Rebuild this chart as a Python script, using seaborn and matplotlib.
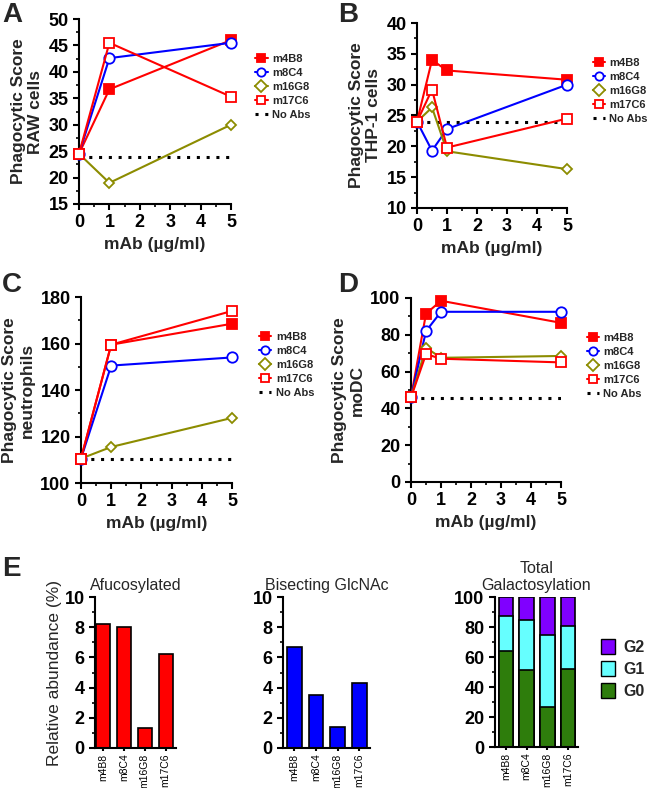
import numpy as np
import pandas as pd
import matplotlib
matplotlib.use("Agg")
import matplotlib.pyplot as plt
import seaborn as sns
from matplotlib.ticker import AutoMinorLocator, MultipleLocator
from matplotlib.patches import Patch

# ================= DATA =================
mabs = ["m4B8", "m8C4", "m16G8", "m17C6"]

# panel A - RAW cells
dose_a = [0, 1, 5]
raw_m4b8 = [24.5, 36.7, 46.0]
raw_m8c4 = [24.5, 42.6, 45.5]
raw_m16g8 = [24.5, 19.0, 30.0]
raw_m17c6 = [24.5, 45.5, 35.3]
raw_noabs = 23.8

# panel B - THP-1 cells
dose_b = [0, 0.5, 1, 5]
thp_m4b8 = [24.0, 34.0, 32.3, 30.8]
thp_m8c4 = [24.0, 19.3, 22.8, 30.0]
thp_m16g8 = [24.0, 26.3, 19.2, 16.3]
thp_m17c6 = [24.0, 29.2, 19.8, 24.5]
thp_noabs = 23.9

# panel C - neutrophils
dose_c = [0, 1, 5]
neu_m4b8 = [110.5, 159.5, 168.5]
neu_m8c4 = [110.5, 150.5, 154.0]
neu_m16g8 = [110.5, 115.5, 128.0]
neu_m17c6 = [110.5, 159.5, 174.0]
neu_noabs = 110.5

# panel D - moDC
dose_d = [0, 0.5, 1, 5]
modc_m4b8 = [46.0, 91.5, 98.5, 86.5]
modc_m8c4 = [46.0, 82.0, 92.5, 92.5]
modc_m16g8 = [46.0, 73.0, 67.5, 68.5]
modc_m17c6 = [46.0, 69.5, 67.0, 65.0]
modc_noabs = 45.8

# panel E - glycans
afucosylated = [8.2, 8.0, 1.3, 6.2]
bisecting = [6.7, 3.5, 1.4, 4.3]
gal_g0 = [64.0, 51.5, 26.5, 52.0]
gal_g1 = [23.5, 33.0, 48.5, 28.5]
gal_g2 = [12.5, 15.5, 25.0, 19.5]

# ================= STYLE =================
sns.set_style("ticks")
plt.rcParams["font.family"] = ["Liberation Sans", "DejaVu Sans"]
plt.rcParams["axes.linewidth"] = 1.5
plt.rcParams["xtick.major.width"] = 1.5
plt.rcParams["ytick.major.width"] = 1.5
plt.rcParams["xtick.minor.width"] = 1.2
plt.rcParams["ytick.minor.width"] = 1.2
plt.rcParams["xtick.major.size"] = 4
plt.rcParams["ytick.major.size"] = 4
plt.rcParams["xtick.minor.size"] = 2.5
plt.rcParams["ytick.minor.size"] = 2.5
plt.rcParams["xtick.color"] = "black"
plt.rcParams["ytick.color"] = "black"
plt.rcParams["axes.edgecolor"] = "black"

RED = "#ff0000"
BLUE = "#0000ff"
OLIVE = "#8c8c00"

series_style = {
    "m4B8": dict(color=RED, marker="s", mfc=RED, ms=7),
    "m8C4": dict(color=BLUE, marker="o", mfc="white", ms=7.5),
    "m16G8": dict(color=OLIVE, marker="D", mfc="white", ms=5.5),
    "m17C6": dict(color=RED, marker="s", mfc="white", ms=7),
}

fig = plt.figure(figsize=(6.5, 7.88), dpi=100)
W, H = 650, 788


def px_axes(left, top, right, bottom):
    return fig.add_axes([left / W, 1 - bottom / H, (right - left) / W, (bottom - top) / H])


def dose_panel(ax, dose, series, noabs, ylim, ystep, ylabel, leg_x):
    for name, vals in zip(mabs, series):
        st = series_style[name]
        sns.lineplot(x=dose, y=vals, ax=ax, color=st["color"], marker=st["marker"],
                     markerfacecolor=st["mfc"], markeredgecolor=st["color"],
                     markersize=st["ms"], markeredgewidth=1.3, linewidth=1.5,
                     label=name, clip_on=False, zorder=3)
    sns.lineplot(x=[0, 5], y=[noabs, noabs], ax=ax, color="black", linestyle=(0, (1, 2.2)),
                 linewidth=2.2, label="No Abs", zorder=2)
    ax.set_xlim(0, 5)
    ax.set_ylim(*ylim)
    ax.yaxis.set_major_locator(MultipleLocator(ystep))
    ax.xaxis.set_major_locator(MultipleLocator(1))
    ax.xaxis.set_minor_locator(AutoMinorLocator(2))
    ax.yaxis.set_minor_locator(AutoMinorLocator(2))
    ax.tick_params(labelsize=13)
    for lab in ax.get_xticklabels() + ax.get_yticklabels():
        lab.set_fontweight("bold")
    ax.set_xlabel("mAb (\u00b5g/ml)", fontsize=12.5, fontweight="bold", labelpad=4)
    ax.set_ylabel(ylabel, fontsize=12.5, fontweight="bold", labelpad=4)
    sns.despine(ax=ax)
    leg = ax.legend(loc="upper left", bbox_to_anchor=(leg_x, 0.81), frameon=False,
                    fontsize=8, handlelength=1.1, handletextpad=0.4, labelspacing=0.35,
                    borderaxespad=0, borderpad=0)
    for t in leg.get_texts():
        t.set_fontweight("bold")
    for h in leg.legend_handles:
        h.set_markersize(6)


axA = px_axes(79, 19, 231, 204)
dose_panel(axA, dose_a, [raw_m4b8, raw_m8c4, raw_m16g8, raw_m17c6], raw_noabs,
           (15, 50), 5, "Phagocytic Score\nRAW cells", 1.16)

axB = px_axes(417, 23, 567, 208)
dose_panel(axB, dose_b, [thp_m4b8, thp_m8c4, thp_m16g8, thp_m17c6], thp_noabs,
           (10, 40), 5, "Phagocytic Score\nTHP-1 cells", 1.17)

axC = px_axes(81, 297, 232, 483)
dose_panel(axC, dose_c, [neu_m4b8, neu_m8c4, neu_m16g8, neu_m17c6], neu_noabs,
           (100, 180), 20, "Phagocytic Score\nneutrophils", 1.18)

axD = px_axes(411, 298, 561, 482)
dose_panel(axD, dose_d, [modc_m4b8, modc_m8c4, modc_m16g8, modc_m17c6], modc_noabs,
           (0, 100), 20, "Phagocytic Score\nmoDC", 1.17)

# ================= PANEL E =================
def bar_style(ax, title, ymax, ystep, xlim):
    ax.set_xlim(*xlim)
    ax.set_ylim(0, ymax)
    ax.yaxis.set_major_locator(MultipleLocator(ystep))
    ax.yaxis.set_minor_locator(AutoMinorLocator(2))
    ax.set_title(title, fontsize=11.5, pad=5)
    ax.set_xlabel("")
    ax.tick_params(axis="y", labelsize=13)
    ax.tick_params(axis="x", labelsize=7.5, rotation=90, length=2.5, pad=1.5)
    for lab in ax.get_yticklabels():
        lab.set_fontweight("bold")
    sns.despine(ax=ax)


axE1 = px_axes(95, 597, 176, 748)
sns.barplot(x=mabs, y=afucosylated, ax=axE1, color=RED, edgecolor="black",
            linewidth=1.2, width=0.68, saturation=1)
bar_style(axE1, "Afucosylated", 10, 2, (-0.39, 3.5))
axE1.set_ylabel("Relative abundance (%)", fontsize=12.5, labelpad=2)

axE2 = px_axes(283, 597, 370, 748)
sns.barplot(x=mabs, y=bisecting, ax=axE2, color=BLUE, edgecolor="black",
            linewidth=1.2, width=0.68, saturation=1)
bar_style(axE2, "Bisecting GlcNAc", 10, 2, (-0.53, 3.5))

axE3 = px_axes(495, 597, 578, 747)
g0 = np.array(gal_g0)
g1 = np.array(gal_g1)
g2 = np.array(gal_g2)
gal_colors = {"G2": "#8000ff", "G1": "#66ffff", "G0": "#2e7d0c"}
for name, tot in [("G2", g0 + g1 + g2), ("G1", g0 + g1), ("G0", g0)]:
    sns.barplot(x=mabs, y=tot, ax=axE3, color=gal_colors[name], edgecolor="black",
                linewidth=1.2, width=0.7, saturation=1)
bar_style(axE3, "Total\nGalactosylation", 100, 20, (-0.53, 3.48))
handles = [Patch(facecolor=gal_colors[k], edgecolor="black", label=k) for k in ["G2", "G1", "G0"]]
legE = axE3.legend(handles=handles, loc="upper left", bbox_to_anchor=(1.2, 0.76), frameon=False,
                   fontsize=11.5, handlelength=0.9, handleheight=1.0, handletextpad=0.5,
                   labelspacing=0.4, borderaxespad=0)
for t in legE.get_texts():
    t.set_fontweight("bold")

# ================= PANEL LETTERS =================
for letter, (x, y) in {"A": (2, 2), "B": (338, 2), "C": (2, 272), "D": (338, 272), "E": (2, 556)}.items():
    fig.text(x / W, 1 - y / H, letter, fontsize=20, fontweight="bold", va="top", ha="left")

fig.savefig("out.png", dpi=100)
plt.close(fig)
